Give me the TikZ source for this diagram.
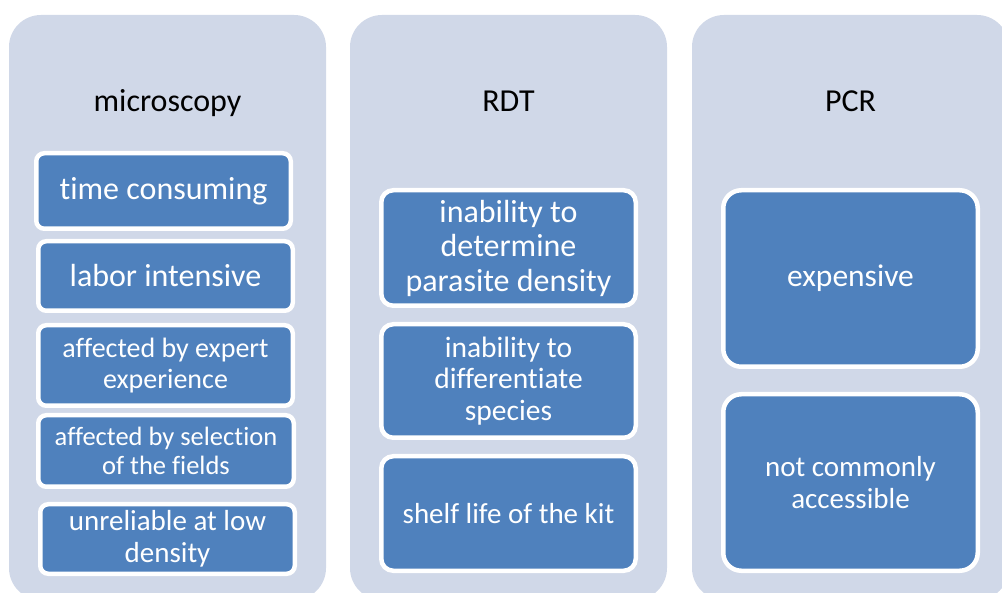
\documentclass[tikz,border=0pt]{standalone}
\usepackage{fontspec}
\setmainfont{Carlito}[Ligatures={NoCommon,NoContextual}]
\definecolor{panelgray}{RGB}{208,216,232}
\definecolor{itemblue}{RGB}{79,129,189}
\newcommand{\fs}[2]{\fontsize{#1}{#2}\selectfont}
\begin{document}
\begin{tikzpicture}[x=1pt,y=-1pt,
  panel/.style={fill=panelgray,draw=none,rounded corners=32pt,minimum width=317pt,minimum height=585pt,inner sep=0pt},
  title/.style={anchor=base,text=black,inner sep=0pt,font=\fs{32}{35}},
  item/.style={fill=itemblue,draw=white,line width=4.5pt,text=white,align=center,inner sep=0pt,minimum width=254.5pt},
  small/.style={item,rounded corners=8pt},
  mid/.style={item,rounded corners=12pt},
  big/.style={item,rounded corners=18pt}]
\useasboundingbox (0,0) rectangle (1002,593);
\clip (0,0) rectangle (1002,593);
\fill[white] (0,0) rectangle (1002,593);
% panels
\node[panel] (p1) at (167.5,307.5) {};
\node[panel] (p2) at (508.5,307.5) {};
\node[panel] (p3) at (850.5,307.5) {};
% titles
\node[title] (t1) at (167.5,112) {microscopy};
\node[title] (t2) at (508.5,112) {RDT};
\node[title] (t3) at (850.5,112) {PCR};
% microscopy items
\node[small,minimum height=75.5pt,font=\fs{32}{35}] (m1) at (163.5,191) {time consuming};
\node[small,minimum height=69.5pt,font=\fs{32}{35}] (m2) at (165.5,276) {labor intensive};
\node[small,minimum height=80.5pt,font=\fs{28}{30.5}] (m3) at (165.5,365.5) {affected by expert\\experience};
\node[small,minimum height=71.5pt,minimum width=255.5pt,font=\fs{26.5}{29}] (m4) at (166,451) {affected by selection\\of the fields};
\node[small,minimum height=69.5pt,font=\fs{29}{31.5}] (m5) at (167.5,539) {unreliable at low\\density};
% RDT items
\node[mid,minimum height=115.5pt,font=\fs{32}{34.5}] (r1) at (508.5,248) {inability to\\determine\\parasite density};
\node[mid,minimum height=113.5pt,font=\fs{29.5}{31.5}] (r2) at (508.5,381) {inability to\\differentiate\\species};
\node[mid,minimum height=114.5pt,font=\fs{29}{32}] (r3) at (508.5,513.5) {shelf life of the kit};
% PCR items
\node[big,minimum height=176.5pt,font=\fs{31.5}{34}] (c1) at (850.5,278.5) {expensive};
\node[big,minimum height=176.5pt,font=\fs{29}{31.5}] (c2) at (850.5,482.5) {not commonly\\accessible};
\end{tikzpicture}
\end{document}
